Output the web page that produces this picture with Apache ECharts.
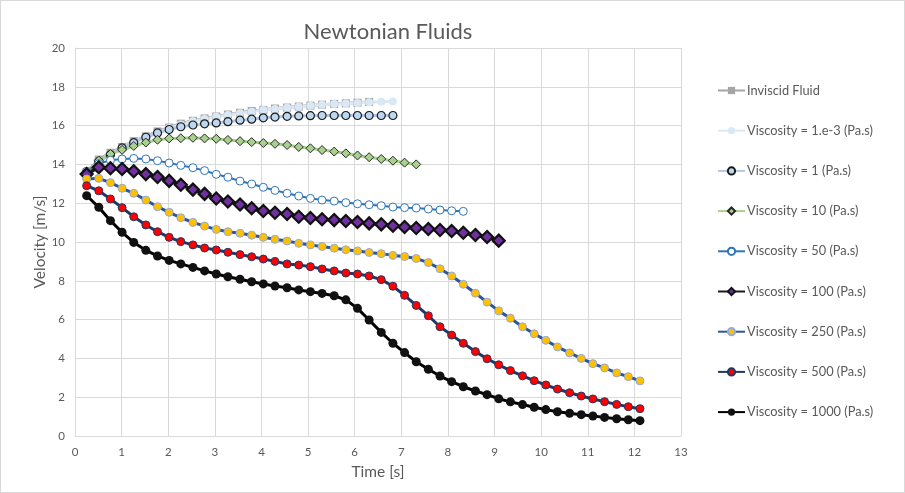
<!DOCTYPE html>
<html>
<head>
<meta charset="utf-8">
<script src="https://cdn.jsdelivr.net/npm/echarts@6/dist/echarts.min.js"></script>
<style>
  html, body { margin: 0; padding: 0; background: #fff; }
  #chart { width: 903px; height: 491px; border: 1px solid #d9d9d9; }
</style>
</head>
<body>
<div id="chart"></div>
<script>
// time samples [s]
const times = [0.25, 0.51, 0.76, 1.01, 1.26, 1.52, 1.77, 2.02, 2.27, 2.53, 2.78, 3.03,
  3.28, 3.54, 3.79, 4.04, 4.29, 4.55, 4.80, 5.05, 5.30, 5.56, 5.81, 6.06,
  6.31, 6.57, 6.82, 7.07, 7.32, 7.58, 7.83, 8.08, 8.33, 8.59, 8.84, 9.09,
  9.34, 9.60, 9.85, 10.10, 10.35, 10.61, 10.86, 11.11, 11.36, 11.62, 11.87, 12.12];

// velocities [m/s]
const inviscid = [13.6, 14.25, 14.6, 14.9, 15.2, 15.45, 15.7, 15.9, 16.1, 16.25, 16.37, 16.47,
  16.57, 16.66, 16.75, 16.81, 16.88, 16.93, 16.98, 17.03, 17.08, 17.12, 17.15, 17.18, 17.22];
const visc1e3 = [13.55, 14.2, 14.55, 14.88, 15.17, 15.42, 15.66, 15.87, 16.06, 16.22, 16.34, 16.45,
  16.55, 16.64, 16.72, 16.8, 16.86, 16.92, 16.97, 17.02, 17.07, 17.11, 17.14, 17.17, 17.2, 17.23, 17.24];
const visc1 = [13.6, 14.15, 14.5, 14.85, 15.12, 15.4, 15.62, 15.8, 15.94, 16.03, 16.09, 16.14,
  16.2, 16.28, 16.33, 16.4, 16.44, 16.48, 16.5, 16.51, 16.52, 16.52, 16.52, 16.52, 16.52, 16.52, 16.52];
const visc10 = [13.55, 14.2, 14.54, 14.75, 14.95, 15.13, 15.27, 15.34, 15.35, 15.37, 15.34, 15.32,
  15.26, 15.2, 15.15, 15.1, 15.06, 15.0, 14.9, 14.83, 14.74, 14.66, 14.57, 14.46, 14.37, 14.28,
  14.19, 14.09, 14.0];
const visc50 = [13.65, 14.04, 14.21, 14.28, 14.31, 14.28, 14.19, 14.07, 13.95, 13.83, 13.68, 13.49,
  13.34, 13.14, 12.99, 12.82, 12.66, 12.51, 12.37, 12.25, 12.16, 12.11, 12.03, 11.97, 11.92, 11.87,
  11.8, 11.77, 11.75, 11.7, 11.65, 11.61, 11.58];
const visc100 = [13.5, 13.85, 13.8, 13.76, 13.65, 13.5, 13.35, 13.15, 12.95, 12.7, 12.48, 12.24,
  12.09, 11.93, 11.74, 11.6, 11.51, 11.44, 11.3, 11.24, 11.17, 11.13, 11.08, 11.03, 10.96, 10.91,
  10.84, 10.77, 10.72, 10.67, 10.62, 10.57, 10.48, 10.36, 10.26, 10.07];
const visc250 = [13.25, 13.28, 13.06, 12.77, 12.51, 12.16, 11.82, 11.53, 11.25, 11.01, 10.82, 10.65,
  10.53, 10.45, 10.35, 10.24, 10.14, 10.05, 9.93, 9.85, 9.77, 9.68, 9.6, 9.54, 9.46, 9.4, 9.31, 9.25,
  9.15, 8.94, 8.62, 8.25, 7.82, 7.36, 6.9, 6.45, 6.07, 5.63, 5.27, 4.93, 4.59, 4.28, 4.0, 3.73,
  3.51, 3.25, 3.06, 2.84];
const visc500 = [12.9, 12.64, 12.22, 11.77, 11.3, 10.88, 10.53, 10.24, 10.02, 9.85, 9.69, 9.59,
  9.47, 9.35, 9.24, 9.12, 9.0, 8.87, 8.81, 8.73, 8.61, 8.51, 8.4, 8.35, 8.25, 8.06, 7.72, 7.25,
  6.73, 6.2, 5.63, 5.2, 4.78, 4.35, 3.98, 3.67, 3.37, 3.1, 2.85, 2.63, 2.42, 2.23, 2.06, 1.91,
  1.77, 1.63, 1.51, 1.41];
const visc1000 = [12.39, 11.79, 11.1, 10.5, 9.98, 9.57, 9.28, 9.05, 8.87, 8.69, 8.51, 8.35, 8.21,
  8.08, 7.95, 7.84, 7.73, 7.64, 7.53, 7.44, 7.35, 7.23, 7.02, 6.58, 5.98, 5.34, 4.78, 4.3, 3.83,
  3.44, 3.09, 2.8, 2.54, 2.32, 2.13, 1.92, 1.76, 1.62, 1.48, 1.36, 1.25, 1.17, 1.1, 1.03, 0.96,
  0.89, 0.84, 0.79];

const xTicks = [0, 1, 2, 3, 4, 5, 6, 7, 8, 9, 10, 11, 12, 13];
const yTicks = [0, 2, 4, 6, 8, 10, 12, 14, 16, 18, 20];

const FONT = 'Lato';
const TXT = '#595959';

const pts = vals => vals.map((v, i) => [times[i], v]);

function line(name, vals, lineColor, lineWidth, symbol, size, fill, border, borderWidth) {
  return {
    name: name,
    type: 'line',
    data: pts(vals),
    symbol: symbol,
    symbolSize: size,
    showAllSymbol: true,
    lineStyle: { color: lineColor, width: lineWidth },
    itemStyle: { color: fill, borderColor: border, borderWidth: borderWidth },
    emphasis: { disabled: true }
  };
}

const chart = echarts.init(document.getElementById('chart'));
chart.setOption({
  animation: false,
  textStyle: { fontFamily: FONT },
  title: {
    text: 'Newtonian Fluids',
    left: 382, top: 15, textAlign: 'center',
    textStyle: { fontFamily: FONT, fontSize: 22, fontWeight: 'normal', color: TXT }
  },
  grid: { left: 74, right: 223, top: 47, bottom: 56 },
  legend: {
    orient: 'vertical',
    left: 716, top: 83, padding: 0,
    itemWidth: 27, itemHeight: 9, itemGap: 27.2,
    textStyle: { fontFamily: FONT, fontSize: 12.8, color: TXT, padding: [0, 0, 0, -3] },
    data: ['Inviscid Fluid', 'Viscosity = 1.e-3 (Pa.s)', 'Viscosity = 1 (Pa.s)',
      'Viscosity = 10 (Pa.s)', 'Viscosity = 50 (Pa.s)', 'Viscosity = 100 (Pa.s)',
      'Viscosity = 250 (Pa.s)', 'Viscosity = 500 (Pa.s)', 'Viscosity = 1000 (Pa.s)']
  },
  xAxis: {
    type: 'value', min: xTicks[0], max: xTicks[xTicks.length - 1], interval: 1,
    name: 'Time [s]', nameLocation: 'middle', nameGap: 28, nameMoveOverlap: false,
    nameTextStyle: { fontFamily: FONT, fontSize: 15.5, color: TXT },
    axisLine: { show: true, lineStyle: { color: '#d9d9d9' } },
    axisTick: { show: false },
    axisLabel: { color: TXT, fontSize: 11.5, fontFamily: FONT, margin: 10 },
    splitLine: { show: true, lineStyle: { color: '#d9d9d9' } }
  },
  yAxis: {
    type: 'value', min: yTicks[0], max: yTicks[yTicks.length - 1], interval: 2,
    name: 'Velocity [m/s]', nameLocation: 'middle', nameGap: 27, nameMoveOverlap: false,
    nameTextStyle: { fontFamily: FONT, fontSize: 15.5, color: TXT },
    axisLine: { show: true, lineStyle: { color: '#d9d9d9' } },
    axisTick: { show: false },
    axisLabel: { color: TXT, fontSize: 11.5, fontFamily: FONT, margin: 10 },
    splitLine: { show: true, lineStyle: { color: '#d9d9d9' } }
  },
  series: [
    line('Inviscid Fluid', inviscid, '#A5A5A5', 3, 'rect', 8, '#A5A5A5', '#A5A5A5', 0),
    line('Viscosity = 1.e-3 (Pa.s)', visc1e3, '#DAE8F5', 3, 'circle', 8, '#DAE8F5', '#DAE8F5', 0),
    line('Viscosity = 1 (Pa.s)', visc1, '#B4C7E7', 3, 'circle', 8, '#BDD7EE', '#1a1a1a', 1.2),
    line('Viscosity = 10 (Pa.s)', visc10, '#A9D18E', 3, 'diamond', 9, '#A9D18E', '#262626', 1),
    line('Viscosity = 50 (Pa.s)', visc50, '#2E75B6', 2, 'circle', 8, '#ffffff', '#2E75B6', 1),
    line('Viscosity = 100 (Pa.s)', visc100, '#1a1a1a', 3.5, 'diamond', 12, '#7030A0', '#111111', 2.2),
    line('Viscosity = 250 (Pa.s)', visc250, '#2F5597', 3, 'circle', 8, '#FFC000', '#8FAADC', 1),
    line('Viscosity = 500 (Pa.s)', visc500, '#203864', 3, 'circle', 8, '#FF0000', '#203864', 1),
    line('Viscosity = 1000 (Pa.s)', visc1000, '#000000', 3, 'circle', 9, '#111111', '#000000', 0)
  ]
});
</script>
</body>
</html>
